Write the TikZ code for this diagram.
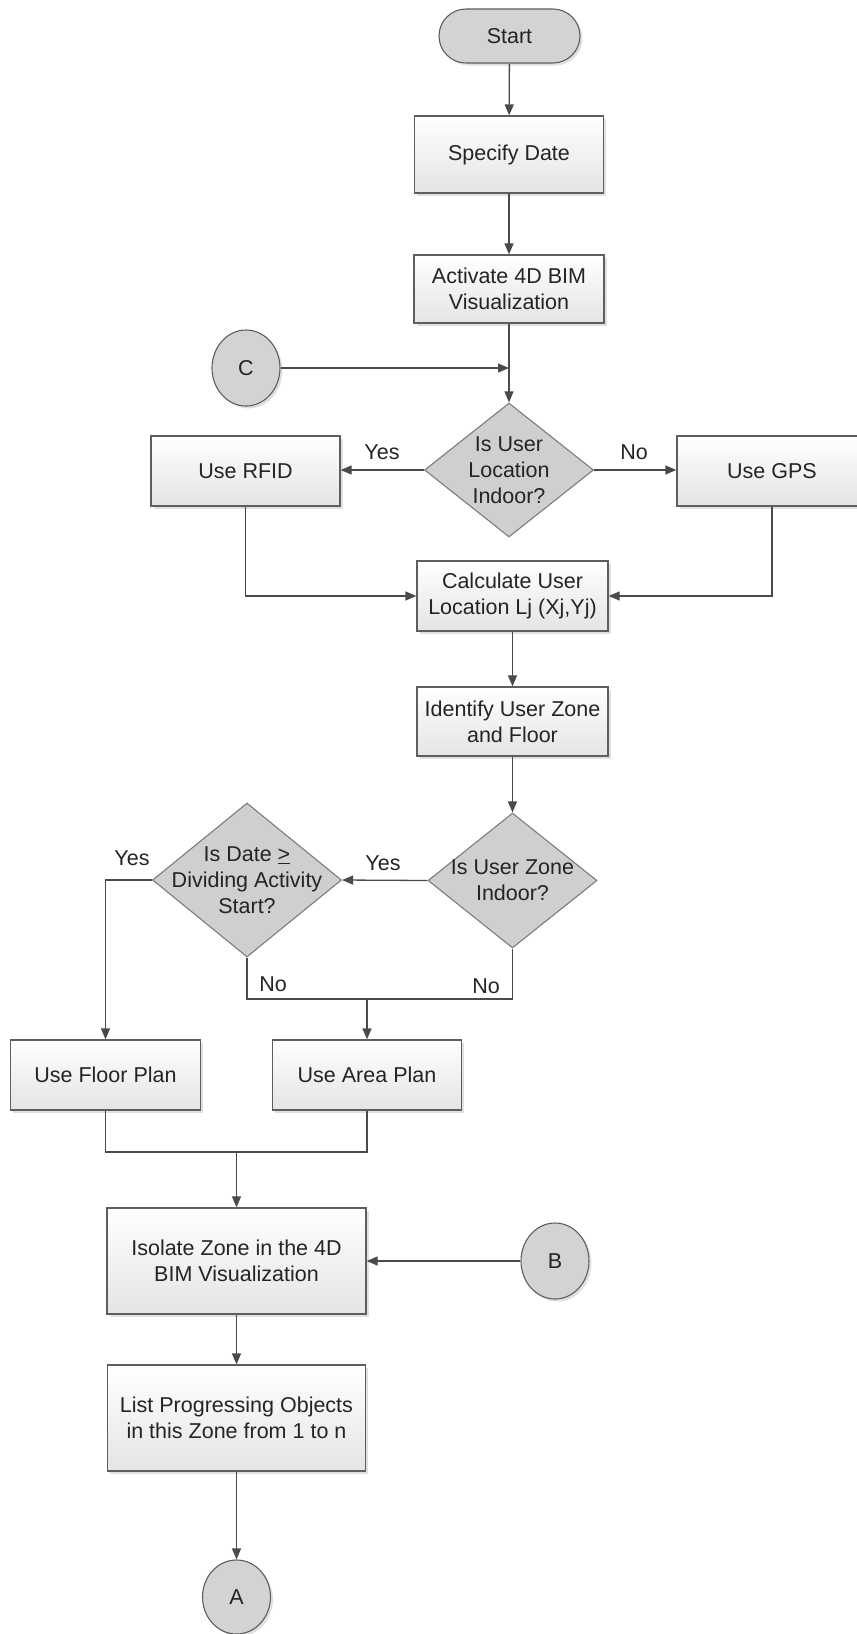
\documentclass[tikz,border=0pt]{standalone}
\usepackage{fontspec}
\setmainfont{Liberation Sans}
\usetikzlibrary{arrows.meta,shapes.geometric,shadows}
\definecolor{linec}{HTML}{4A4A4A}
\definecolor{boxborder}{HTML}{5E5E5E}
\definecolor{boxbot}{HTML}{E4E4E4}
\definecolor{grayfill}{HTML}{D3D3D3}
\definecolor{diafill}{HTML}{CFCFCF}
\definecolor{diaborder}{HTML}{7C7C7C}
\definecolor{txtc}{HTML}{242424}
\newcommand\lblfont{\fontsize{21.5}{26}\selectfont}
\tikzset{
  shade/.style={drop shadow={shadow xshift=2.5pt,shadow yshift=-2.5pt,opacity=0.12,fill=black}},
  box/.style={rectangle, draw=boxborder, line width=1.3pt, top color=white, bottom color=boxbot,
    align=center, inner sep=2pt, font=\lblfont, text=txtc, shade},
  dia/.style={diamond, draw=diaborder, line width=1.1pt, fill=diafill, inner sep=0pt},
  conn/.style={ellipse, draw=boxborder, line width=1.1pt, fill=grayfill, inner sep=0pt,
    font=\lblfont, text=txtc, minimum width=68pt, minimum height=76pt, shade},
  term/.style={rectangle, rounded corners=27pt, draw=boxborder, line width=1.1pt, fill=grayfill,
    font=\lblfont, text=txtc, minimum width=141pt, minimum height=54pt, shade},
  txt/.style={font=\lblfont, text=txtc, align=center, inner sep=0pt},
  wire/.style={draw=linec, line width=1.3pt},
  arr/.style={wire, -{Triangle[length=11pt,width=9pt]}}
}
\begin{document}
\begin{tikzpicture}[x=1pt,y=-1pt]
\useasboundingbox (0,0) rectangle (857,1634);
\fill[white] (0,0) rectangle (857,1634);

% nodes
\node[term] (start) at (509.5,36) {Start};
\node[box, minimum width=189pt, minimum height=77pt] (spec) at (509,154.5) {Specify Date};
\node[box, minimum width=190pt, minimum height=68pt] (act) at (509,289) {Activate 4D BIM\\Visualization};
\node[conn] (c) at (246,368) {C};
\coordinate (j1) at (509,368);
\node[dia, minimum width=169pt, minimum height=134pt] (d1) at (509,470) {};
\node[txt] (d1t) at (d1.center) {Is User\\Location\\Indoor?};
\node[box, minimum width=189pt, minimum height=70pt] (rfid) at (245.5,471) {Use RFID};
\node[box, minimum width=190pt, minimum height=70pt] (gps) at (772,471) {Use GPS};
\node[txt] (yes1) at (382,452) {Yes};
\node[txt] (no1) at (634,452) {No};
\node[box, minimum width=191pt, minimum height=70pt] (calc) at (512.5,596) {Calculate User\\Location Lj (Xj,Yj)};
\node[box, minimum width=191pt, minimum height=69pt] (ident) at (512.5,721.5) {Identify User Zone\\and Floor};
\node[dia, minimum width=169pt, minimum height=135pt] (d2) at (512.5,880.5) {};
\node[txt] (d2t) at (d2.center) {Is User Zone\\Indoor?};
\node[dia, minimum width=189pt, minimum height=154pt] (d3) at (247,880) {};
\node[txt] (d3t) at (d3.center) {Is Date \underline{>}\\Dividing Activity\\Start?};
\node[txt] (yes2) at (383,863) {Yes};
\node[txt] (yes3) at (132,858) {Yes};
\node[txt] (no3) at (273,984) {No};
\node[txt] (no2) at (486,986) {No};
\node[box, minimum width=190pt, minimum height=70pt] (floor) at (105.5,1075) {Use Floor Plan};
\node[box, minimum width=189pt, minimum height=70pt] (area) at (367,1075) {Use Area Plan};
\coordinate (m1) at (367,999);
\coordinate (m2) at (236.5,1152);
\node[box, minimum width=259pt, minimum height=106pt] (iso) at (236.5,1261) {Isolate Zone in the 4D\\BIM Visualization};
\node[conn] (b) at (555,1261) {B};
\node[box, minimum width=258pt, minimum height=106pt] (list) at (236.5,1418) {List Progressing Objects\\in this Zone from 1 to n};
\node[conn, minimum height=74pt] (a) at (236.5,1597) {A};

% connectors
\draw[arr] (start) -- (spec);
\draw[arr] (spec) -- (act);
\draw[arr] (act) -- (d1);
\draw[arr] (c) -- (j1);
\draw[arr] (d1.west) -- (d1.west -| rfid.east);
\draw[arr] (d1.east) -- (d1.east -| gps.west);
\draw[arr] (rfid.south) |- (calc.west);
\draw[arr] (gps.south) |- (calc.east);
\draw[arr] (calc) -- (ident);
\draw[arr] (ident) -- (d2);
\draw[arr] (d2.west) -- (d3.east);
\draw[arr] (d3.west) -| (floor.north);
\draw[wire] (d3.south) |- (m1) -| (d2.south);
\draw[arr] (m1) -- (area.north);
\draw[wire] (floor.south) |- (m2) -| (area.south);
\draw[arr] (m2) -- (iso.north);
\draw[arr] (b.west) -- (iso.east);
\draw[arr] (iso) -- (list);
\draw[arr] (list) -- (a);
\end{tikzpicture}
\end{document}
